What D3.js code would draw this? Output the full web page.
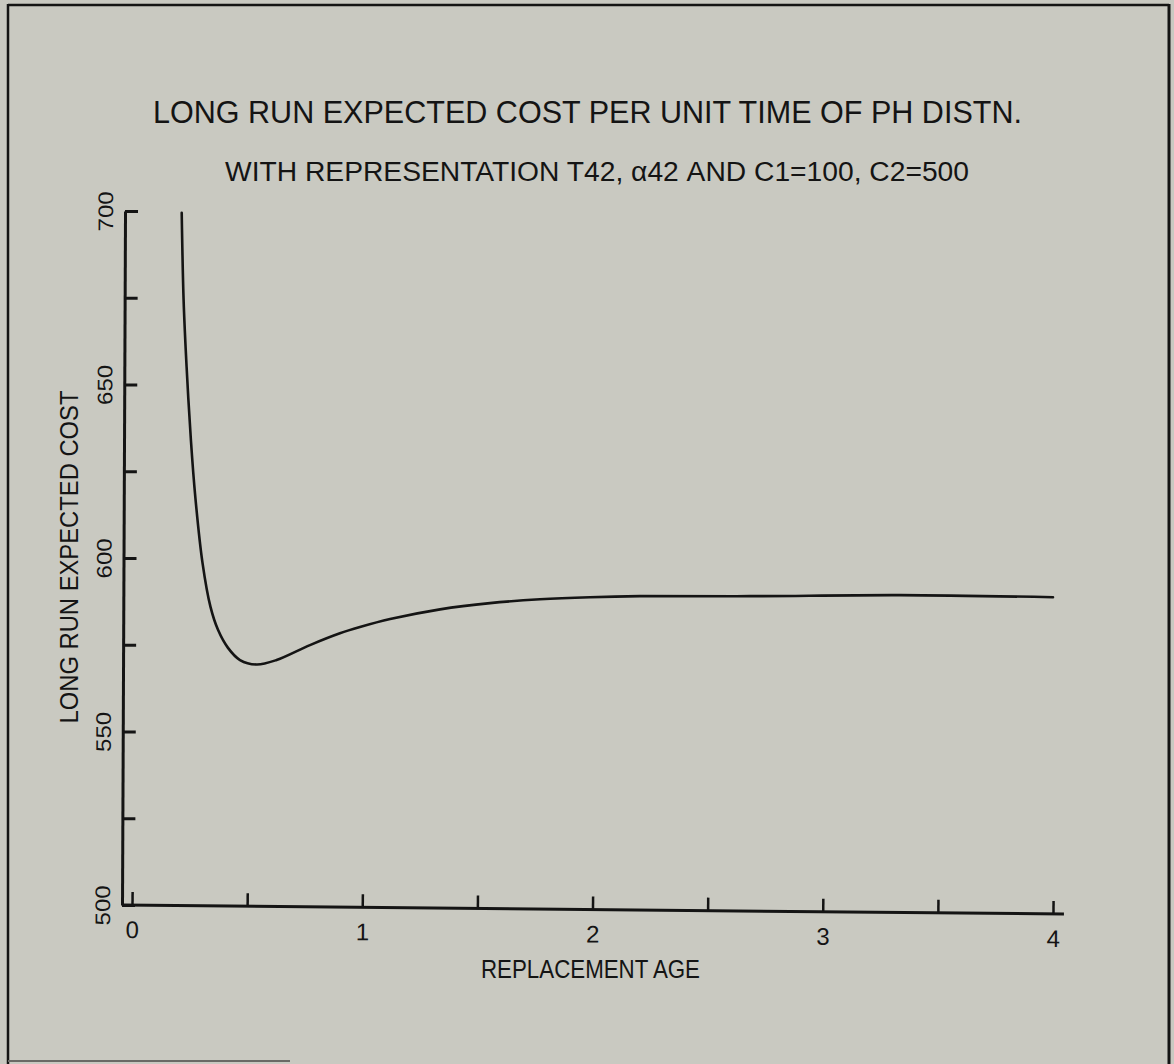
<!DOCTYPE html>
<html>
<head>
<meta charset="utf-8">
<script src="https://cdn.jsdelivr.net/npm/d3@7"></script>
<style>
  html, body { margin: 0; padding: 0; background: #c9c9c1; }
  svg { display: block; }
  text { font-family: 'Liberation Sans Narrow', 'Liberation Sans', Arial, sans-serif; fill: #141414; }
</style>
</head>
<body>
<svg id="chart" width="1174" height="1064"></svg>
<script>
// ---- data ----
const ages  = [0.2159, 0.2241, 0.2371, 0.2558, 0.2749, 0.3062, 0.3409, 0.3735, 0.4169, 0.4691, 0.5416, 0.628, 0.773, 0.903, 0.990, 1.121, 1.338, 1.555, 1.772, 1.989, 2.206, 2.684, 3.335, 4.0];
const costs = [699.5, 674.4, 655.1, 634.0, 617.6, 598.6, 585.9, 579.3, 574.1, 570.6, 569.3, 570.6, 574.9, 578.3, 580.1, 582.4, 585.2, 587.0, 588.1, 588.7, 589.0, 589.0, 589.3, 588.7];
const xTicks = [0, 0.5, 1, 1.5, 2, 2.5, 3, 3.5, 4];
const xTickLabels = ["0", "", "1", "", "2", "", "3", "", "4"];
const yTicks = [500, 525, 550, 575, 600, 625, 650, 675, 700];
const yTickLabels = ["500", "", "550", "", "600", "", "650", "", "700"];
const titleText = "LONG RUN EXPECTED COST PER UNIT TIME OF PH DISTN.";
const subtitleText = "WITH REPRESENTATION T42, \u03b142 AND C1=100, C2=500";
const xTitle = "REPLACEMENT AGE";
const yTitle = "LONG RUN EXPECTED COST";

const svg = d3.select("#chart");
const ink = "#141414";

// frame
const frame = svg.append("g").attr("stroke", ink).attr("fill", "none");
frame.append("line").attr("x1", 8).attr("y1", 5).attr("x2", 1169).attr("y2", 5).attr("stroke-width", 2.5);
frame.append("line").attr("x1", 8).attr("y1", 4).attr("x2", 8).attr("y2", 1064).attr("stroke-width", 2.5);
frame.append("line").attr("x1", 1169).attr("y1", 4).attr("x2", 1169).attr("y2", 1064).attr("stroke-width", 3);
frame.append("line").attr("x1", 8).attr("y1", 1061).attr("x2", 290).attr("y2", 1061).attr("stroke", "#6a6a66").attr("stroke-width", 2);

// titles
svg.append("text").attr("x", 153).attr("y", 123).attr("font-size", 32)
  .attr("textLength", 869).attr("lengthAdjust", "spacingAndGlyphs").text(titleText);
svg.append("text").attr("x", 225).attr("y", 181).attr("font-size", 27)
  .attr("textLength", 744).attr("lengthAdjust", "spacingAndGlyphs").text(subtitleText);

// scales
const x = d3.scaleLinear().domain([0, 4]).range([132, 1053]);
const y = d3.scaleLinear().domain([500, 700]).range([905, 211]);
const axisX0 = 122;

// y axis
const yAxis = d3.axisLeft(y).tickValues(yTicks)
  .tickFormat((d, i) => yTickLabels[i]).tickSizeInner(-13).tickSizeOuter(0).tickPadding(0);
const gy = svg.append("g").attr("transform", `translate(${axisX0},0) rotate(0.25,0,905)`).call(yAxis);
gy.selectAll("path.domain, .tick line").attr("stroke", ink).attr("stroke-width", 3);
gy.selectAll(".tick text")
  .attr("x", null).attr("dy", null)
  .attr("text-anchor", "middle").attr("font-size", 21)
  .attr("transform", "translate(-12,0) rotate(-90)")
  .attr("textLength", function(){ return this.textContent ? 40 : null; })
  .attr("lengthAdjust", "spacingAndGlyphs")
  .style("font-family", "'Liberation Sans', Arial, sans-serif");

// x axis
const xAxis = d3.axisBottom(x).tickValues(xTicks)
  .tickFormat((d, i) => xTickLabels[i]).tickSizeInner(-13).tickSizeOuter(0).tickPadding(16);
const gx = svg.append("g").attr("transform", `translate(0,905) rotate(0.55,${axisX0},0)`).call(xAxis);
gx.select("path.domain").remove();
gx.append("line").attr("x1", axisX0).attr("x2", x(4) + 11).attr("y1", 0).attr("y2", 0)
  .attr("stroke", ink).attr("stroke-width", 3);
gx.selectAll(".tick line").attr("stroke", ink).attr("stroke-width", 2.5);
gx.selectAll(".tick text").attr("font-size", 24).attr("fill", ink);

// axis titles
svg.append("text").attr("x", 481).attr("y", 978).attr("font-size", 25)
  .attr("textLength", 219).attr("lengthAdjust", "spacingAndGlyphs").text(xTitle);
svg.append("text").attr("transform", "translate(78,557) rotate(-90)")
  .attr("text-anchor", "middle").attr("font-size", 25)
  .attr("textLength", 333).attr("lengthAdjust", "spacingAndGlyphs").text(yTitle);

// curve
const pts = ages.map((a, i) => [a, costs[i]]);
svg.append("path").datum(pts)
  .attr("fill", "none").attr("stroke", ink).attr("stroke-width", 2.6)
  .attr("stroke-linecap", "round")
  .attr("d", d3.line().x(d => x(d[0])).y(d => y(d[1])).curve(d3.curveCatmullRom.alpha(0.5)));
</script>
</body>
</html>
